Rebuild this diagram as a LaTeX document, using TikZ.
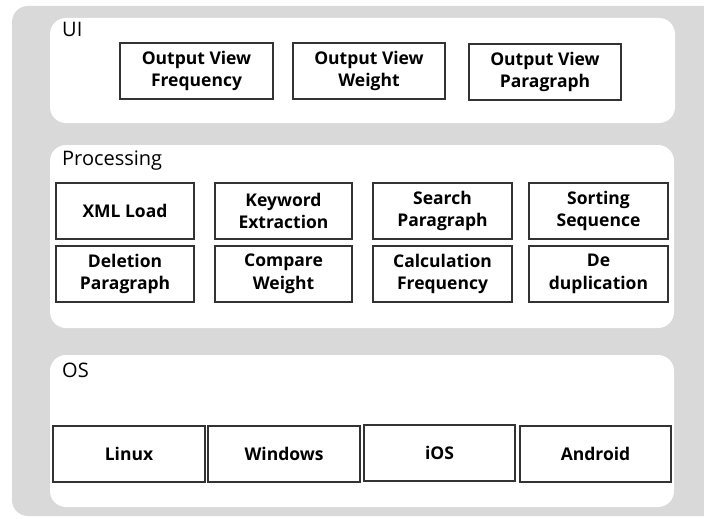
\documentclass[tikz,border=0pt]{standalone}
\usepackage{fontspec}
\setmainfont{Open Sans}
\definecolor{backgray}{RGB}{217,217,217}
\tikzset{
  panel/.style={fill=white, rounded corners=16pt},
  layer/.style={anchor=west, inner sep=0pt, font=\fontsize{20}{24}\selectfont},
  blk/.style={draw=black!80, line width=1.1pt, fill=white, align=center,
    inner sep=0pt, minimum height=56pt,
    font=\bfseries\fontsize{17.5}{22.5}\selectfont},
}
\begin{document}
\begin{tikzpicture}[x=1pt,y=-1pt]
    \useasboundingbox (0,0) rectangle (704,519);
    % background and layers
    \fill[backgray, rounded corners=16pt] (12,6) rectangle (730,516);
    \fill[panel] (50,18) rectangle (675,123);
    \fill[panel] (50,145) rectangle (674,328);
    \fill[panel] (50,355) rectangle (674,507);
    \node[layer] (ui) at (62,29) {UI};
    \node[layer] (proc) at (62,161) {Processing};
    \node[layer] (os) at (62,370) {OS};
    % UI
    \node[blk,minimum width=153pt] (freq) at (196.5,71) {Output View\\Frequency};
    \node[blk,minimum width=152pt] (weight) at (369,71) {Output View\\Weight};
    \node[blk,minimum width=152pt] (para) at (545,72) {Output View\\Paragraph};
    % Processing
    \node[blk,minimum width=138pt] (xml) at (125,211) {XML Load};
    \node[blk,minimum width=137pt] (keyword) at (283.5,211) {Keyword\\Extraction};
    \node[blk,minimum width=139pt] (search) at (442.5,211) {Search\\Paragraph};
    \node[blk,minimum width=139pt] (sorting) at (598.5,211) {Sorting\\Sequence};
    \node[blk,minimum width=138pt] (deletion) at (125,274) {Deletion\\Paragraph};
    \node[blk,minimum width=137pt] (compare) at (283.5,274) {Compare\\Weight};
    \node[blk,minimum width=139pt] (calc) at (442.5,274) {Calculation\\Frequency};
    \node[blk,minimum width=139pt] (dedup) at (598.5,274) {De\\duplication};
    % OS
    \node[blk,minimum width=152pt] (linux) at (129,454) {Linux};
    \node[blk,minimum width=152pt] (windows) at (284,454) {Windows};
    \node[blk,minimum width=151pt] (ios) at (439.5,453) {iOS};
    \node[blk,minimum width=151pt] (android) at (595.5,454) {Android};
\end{tikzpicture}
\end{document}
